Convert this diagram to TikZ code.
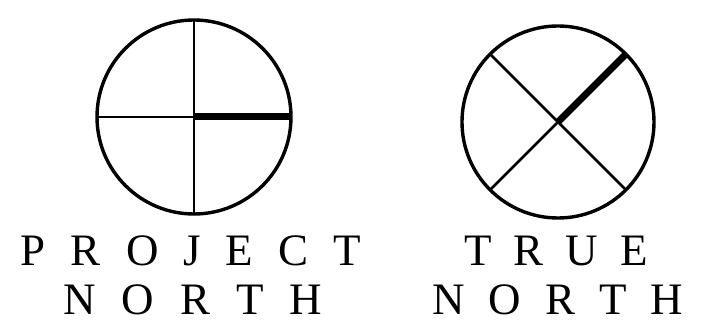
\documentclass[tikz,border=0pt]{standalone}
\usepackage{fontspec}
\setmainfont{Liberation Serif}
\newcommand{\lsp}[1]{\hspace{#1}}
\begin{document}
\begin{tikzpicture}[x=1pt,y=-1pt,
  dial/.style={circle,draw,line width=3.4pt,inner sep=0pt,outer sep=0pt},
  thin line/.style={line width=2.8pt},
  needle/.style={line width=7pt},
  label/.style={inner sep=0pt,anchor=base,font=\fontsize{45}{50}\selectfont}]
\useasboundingbox (0,0) rectangle (718,326);
% left: project north
\node[dial,minimum size=194pt] (L) at (194,117) {};
\draw[thin line] (L.north) -- (L.south);
\draw[thin line] (L.west) -- (L.center);
\draw[needle] (L.center) -- (L.east);
% right: true north
\node[dial,minimum size=192pt] (R) at (558,122) {};
\draw[thin line] (R.135) -- (R.-45);
\draw[thin line] (R.-135) -- (R.center);
\draw[needle] (R.center) -- (R.45);
% labels
\node[label] (p1) at (191,265) {P\lsp{25pt}R\lsp{25pt}O\lsp{25pt}J\lsp{25pt}E\lsp{25pt}C\lsp{25pt}T};
\node[label] (p2) at (193,314) {N\lsp{26pt}O\lsp{26pt}R\lsp{26pt}T\lsp{26pt}H};
\node[label] (t1) at (556,265) {T\lsp{22pt}R\lsp{22pt}U\lsp{22pt}E};
\node[label] (t2) at (558,314) {N\lsp{24pt}O\lsp{24pt}R\lsp{24pt}T\lsp{24pt}H};
\end{tikzpicture}
\end{document}
